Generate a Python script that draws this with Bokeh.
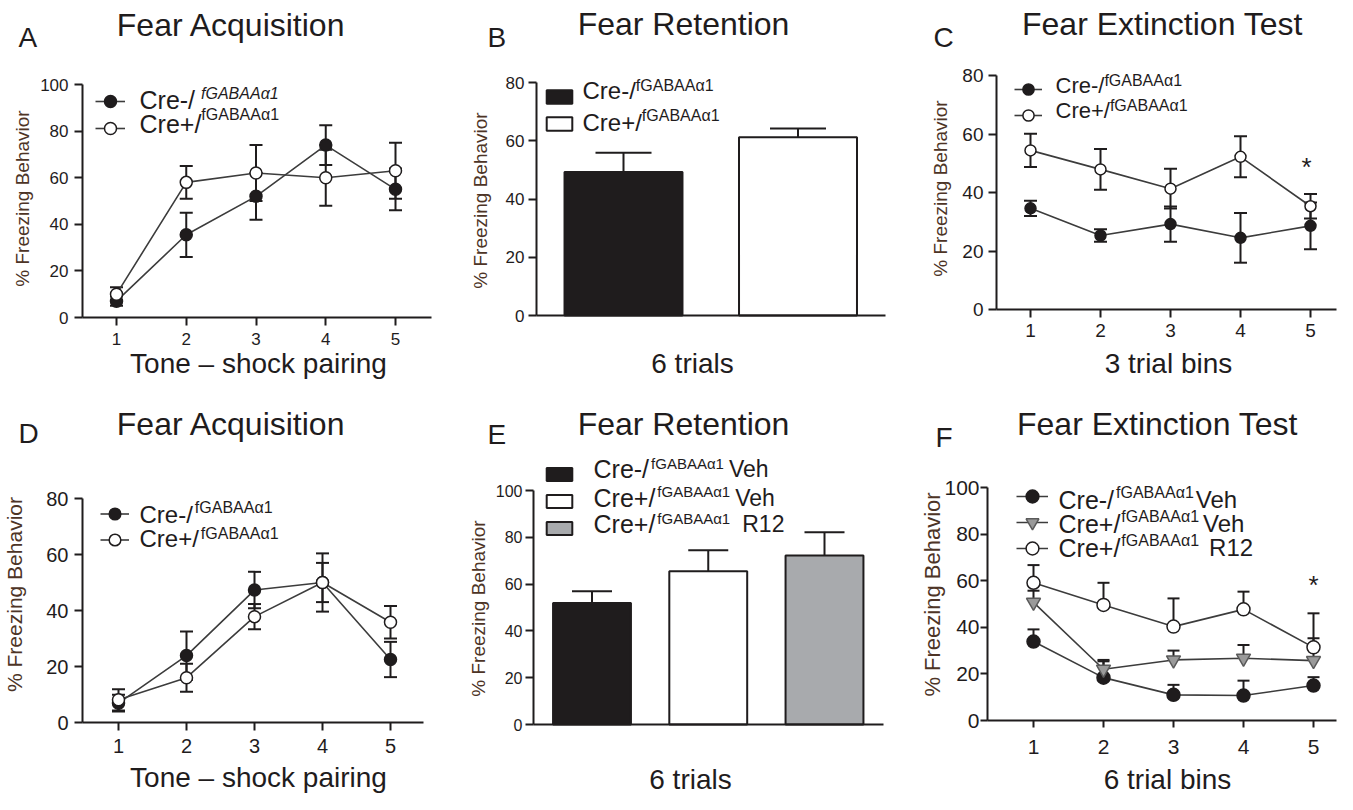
from bokeh.plotting import figure
from bokeh.models import (Range1d, Label, Legend, LegendItem, Whisker, TeeHead,
                          ColumnDataSource, FixedTicker)
from bokeh.layouts import row, column
from bokeh.embed import file_html
from bokeh.resources import INLINE
from bokeh.core.properties import value

FONT = "Liberation Sans"
INK = "#1f1c1d"
LINEC = "#3c3c3c"
YLABC = "#4d3426"
GREY_BAR = "#a8aaad"
TRI_FILL = "#9a9a9a"
TRI_LINE = "#5a5a5a"

# ---------------- data ----------------
bins = [1, 2, 3, 4, 5]
y_ticks_100 = [0, 20, 40, 60, 80, 100]
y_ticks_80 = [0, 20, 40, 60, 80]
sup = "fGABAA\u03b11"

# A  Fear Acquisition
a_minus = [7, 35.5, 52, 74, 55]
a_minus_err = [2, 9.5, 10, 8.5, 9]
a_plus = [10, 58, 62, 60, 63]
a_plus_err = [3, 7, 12, 12, 12]
# B  Fear Retention
b_groups = [1, 2]
b_mean = [49.3, 61.2]
b_err = [6.6, 3.0]
# C  Fear Extinction Test
c_minus = [34.6, 25.3, 29.2, 24.5, 28.6]
c_minus_err = [2.6, 2.1, 6.0, 8.5, 8.0]
c_plus = [54.4, 47.9, 41.3, 52.2, 35.3]
c_plus_err = [5.7, 7.0, 6.8, 7.0, 4.2]
# D  Fear Acquisition
d_minus = [6.9, 23.9, 47.3, 50.0, 22.5]
d_minus_err = [3.0, 8.6, 6.5, 10.4, 6.3]
d_plus = [8.1, 16.0, 37.8, 50.0, 35.8]
d_plus_err = [3.8, 5.0, 4.5, 7.0, 5.8]
# E  Fear Retention
e_groups = [1, 2, 3]
e_mean = [51.9, 65.5, 72.2]
e_err = [5.0, 9.0, 10.0]
# F  Fear Extinction Test
f_minus_veh = [33.9, 18.4, 11.0, 10.7, 15.0]
f_minus_veh_err = [5.2, 7.0, 4.3, 6.4, 3.6]
f_plus_veh = [50.7, 22.0, 26.0, 26.7, 25.7]
f_plus_veh_err = [5.0, 4.0, 4.0, 5.7, 9.6]
f_plus_r12 = [59.1, 49.6, 40.3, 47.7, 31.4]
f_plus_r12_err = [7.6, 9.5, 12.1, 7.6, 14.6]

# approximate advance widths (em) of Liberation Sans, for placing superscripts
EM = {"C": .722, "r": .333, "e": .556, "-": .333, "+": .584, "/": .278, " ": .278}
SUP_EM = 4.86


# ---------------- helpers ----------------
def panel(W, H, X1, ppx, Y0, ppy, ax_l, ax_r, ytop, xticks, yticks,
          tick_size, xstand, ystand, tick_len=8):
    """Frame fills the whole canvas; axes sit at fixed data locations."""
    xs = 1 - X1 / ppx
    ys = -(H - Y0) / ppy
    p = figure(width=W, height=H, x_range=Range1d(xs, xs + W / ppx),
               y_range=Range1d(ys, Y0 / ppy), min_border=0,
               toolbar_location=None, output_backend="svg")
    p.title_location = None
    p.outline_line_color = None
    p.grid.visible = False
    p.background_fill_color = "white"
    p.border_fill_color = "white"
    for ax in (p.xaxis[0], p.yaxis[0]):
        ax.axis_line_width = 2
        ax.axis_line_color = INK
        ax.major_tick_line_width = 2
        ax.major_tick_line_color = INK
        ax.major_tick_out = tick_len
        ax.major_tick_in = 0
        ax.minor_tick_line_color = None
        ax.major_label_text_font = FONT
        ax.major_label_text_color = INK
        ax.major_label_text_font_size = f"{tick_size}px"
    xl = xs + ax_l / ppx
    xr = xs + ax_r / ppx
    p.xaxis[0].major_label_standoff = xstand
    p.yaxis[0].major_label_standoff = ystand
    p.xaxis[0].ticker = FixedTicker(ticks=xticks)
    p.yaxis[0].ticker = FixedTicker(ticks=yticks)
    p.yaxis[0].fixed_location = xl
    p.xaxis[0].fixed_location = 0
    p.xaxis[0].bounds = (xl, xr)
    p.yaxis[0].bounds = (0, ytop)
    return p


def put(p, fx, fy, text, size, color=INK, align="left", angle=0, style="normal"):
    p.add_layout(Label(x=fx, y=p.height - fy, x_units="screen", y_units="screen",
                       text=text, text_font=FONT, text_font_size=f"{size}px",
                       text_color=color, text_align=align,
                       text_baseline="middle", angle=angle, angle_units="deg",
                       text_font_style=style))


def entry(p, x, cy, main, size, ssize, lift, gap=1, tail=None, tail_gap=4,
          tail_size=None, italic=False):
    put(p, x, cy, main, size)
    sx = x + sum(EM[c] for c in main) * size + gap
    put(p, sx, cy - lift, sup, ssize, style="italic" if italic else "normal")
    if tail:
        put(p, sx + SUP_EM * ssize + tail_gap, cy, tail, tail_size or size)


def errbars(p, x, y, err, cap, both=True):
    up = [v + e for v, e in zip(y, err)]
    lo = [v - e for v, e in zip(y, err)] if both else list(y)
    src = ColumnDataSource(dict(x=list(x), upper=up, lower=lo))
    w = Whisker(base="x", upper="upper", lower="lower", source=src,
                level="underlay", line_color=INK, line_width=2,
                upper_head=TeeHead(size=cap, line_color=INK, line_width=2),
                lower_head=(TeeHead(size=cap, line_color=INK, line_width=2)
                            if both else None))
    p.add_layout(w)


def series(p, specs):
    lines = [p.line(x, y, line_color=LINEC, line_width=1.6) for x, y, *_ in specs]
    groups = []
    for (x, y, marker, size, fill, lc), l in zip(specs, lines):
        s = p.scatter(x, y, marker=marker, size=size, fill_color=fill,
                      line_color=lc, line_width=1.5)
        groups.append([l, s])
    return groups


def legend_rows(p, items, cx, cys, gw, gh):
    # one single-row legend per entry, so each swatch sits exactly on its text row
    for item, cy in zip(items, cys):
        p.add_layout(Legend(items=[item],
                            location=(cx - gw / 2, p.height - (cy + gh / 2)),
                            glyph_width=gw, glyph_height=gh, spacing=0, padding=0,
                            margin=0, label_standoff=0, label_width=0,
                            label_height=gh, label_text_font_size="1px",
                            border_line_color=None, background_fill_alpha=0))


def line_items(groups):
    return [LegendItem(label=value(""), renderers=g) for g in groups]


def bar_items(r, n):
    return [LegendItem(label=value(""), renderers=[r], index=i) for i in range(n)]


YL = "% Freezing Behavior"
TS = 32  # title size

# ---------------- A ----------------
pA = panel(450, 400, 116, 69.75, 317, 2.33, 82, 431, 100, bins, y_ticks_100,
           17, 7, 6)
errbars(pA, bins, a_minus, a_minus_err, 13)
errbars(pA, bins, a_plus, a_plus_err, 13)
gA = series(pA, [(bins, a_minus, "circle", 12, INK, INK),
                 (bins, a_plus, "circle", 12, "white", INK)])
legend_rows(pA, line_items(gA), 110, [101, 128], 30, 30)
entry(pA, 139, 99, "Cre-/", 25, 16, 6, gap=6, italic=True)
entry(pA, 139, 123, "Cre+/", 25, 16, 9, gap=0)
put(pA, 231, 24, "Fear Acquisition", TS, align="center")
put(pA, 18, 37, "A", 28)
put(pA, 22, 198, YL, 19, color=YLABC, align="center", angle=90)
put(pA, 258, 363, "Tone \u2013 shock pairing", 28, align="center")

# ---------------- B ----------------
pB = panel(450, 400, 173, 174.5, 315, 2.9125, 86, 435, 80, [], y_ticks_80,
           17, 7, 4)
srcB = ColumnDataSource(dict(x=b_groups, top=b_mean, color=[INK, "white"]))
errbars(pB, b_groups, b_mean, b_err, 56, both=False)
rB = pB.vbar(x="x", top="top", width=0.676, fill_color="color", line_color=INK,
             line_width=2, source=srcB)
legend_rows(pB, bar_items(rB, 2), 109, [96, 123], 32, 17)
entry(pB, 132, 90, "Cre-/", 24, 16, 5, gap=0)
entry(pB, 132, 122, "Cre+/", 24, 16, 7, gap=0)
put(pB, 233, 23, "Fear Retention", TS, align="center")
put(pB, 37, 37, "B", 28)
put(pB, 30, 200, YL, 19, color=YLABC, align="center", angle=90)
put(pB, 242, 363, "6 trials", 28, align="center")

# ---------------- C ----------------
pC = panel(437, 400, 130, 70, 309, 2.925, 96, 436, 80, bins, y_ticks_80,
           19, 6, 5)
errbars(pC, bins, c_minus, c_minus_err, 13)
errbars(pC, bins, c_plus, c_plus_err, 13)
gC = series(pC, [(bins, c_minus, "circle", 11, INK, INK),
                 (bins, c_plus, "circle", 11, "white", INK)])
legend_rows(pC, line_items(gC), 128, [89, 115], 28, 28)
entry(pC, 155, 85, "Cre-/", 22, 16, 5, gap=0)
entry(pC, 155, 110, "Cre+/", 22, 16, 5, gap=0)
put(pC, 406, 166, "*", 26, align="center")
put(pC, 262, 23, "Fear Extinction Test", TS, align="center")
put(pC, 33, 37, "C", 28)
put(pC, 40, 188, YL, 19, color=YLABC, align="center", angle=90)
put(pC, 268, 363, "3 trial bins", 28, align="center")

# ---------------- D ----------------
pD = panel(450, 394, 118, 68, 322, 2.8, 82, 423, 80, bins, y_ticks_80,
           20, 8, 6)
errbars(pD, bins, d_minus, d_minus_err, 13)
errbars(pD, bins, d_plus, d_plus_err, 13)
gD = series(pD, [(bins, d_minus, "circle", 12, INK, INK),
                 (bins, d_plus, "circle", 12, "white", INK)])
legend_rows(pD, line_items(gD), 114, [113, 139], 29, 29)
entry(pD, 139, 114, "Cre-/", 24, 16, 7, gap=2)
entry(pD, 139, 138, "Cre+/", 24, 16, 5, gap=2)
put(pD, 231, 23, "Fear Acquisition", TS, align="center")
put(pD, 18, 33, "D", 28)
put(pD, 14, 194, YL, 21, color=YLABC, align="center", angle=90)
put(pD, 258, 377, "Tone \u2013 shock pairing", 28, align="center")

# ---------------- E ----------------
pE = panel(450, 394, 141.5, 116.25, 324, 2.34, 83, 433, 100, [], y_ticks_100,
           16, 7, 3)
srcE = ColumnDataSource(dict(x=e_groups, top=e_mean, color=[INK, "white", GREY_BAR]))
errbars(pE, e_groups, e_mean, e_err, 40, both=False)
rE = pE.vbar(x="x", top="top", width=0.67, fill_color="color", line_color=INK,
             line_width=2, source=srcE)
legend_rows(pE, bar_items(rE, 3), 109, [74, 101, 128], 32, 16)
entry(pE, 143, 68, "Cre-/", 25, 15, 5, gap=2, tail="Veh", tail_gap=5, tail_size=23)
entry(pE, 143, 97, "Cre+/", 25, 15, 6, gap=2, tail="Veh", tail_gap=5, tail_size=23)
entry(pE, 143, 123, "Cre+/", 25, 15, 5, gap=2, tail="R12", tail_gap=12, tail_size=23)
put(pE, 233, 23, "Fear Retention", TS, align="center")
put(pE, 37, 34, "E", 28)
put(pE, 28, 208, YL, 19, color=YLABC, align="center", angle=90)
put(pE, 240, 379, "6 trials", 28, align="center")

# ---------------- F ----------------
pF = panel(437, 394, 133, 70, 320, 2.33, 87, 436, 100, bins, y_ticks_100,
           21, 12, 1, tick_len=7)
errbars(pF, bins, f_minus_veh, f_minus_veh_err, 12, both=False)
errbars(pF, bins, f_plus_veh, f_plus_veh_err, 12, both=False)
errbars(pF, bins, f_plus_r12, f_plus_r12_err, 12, both=False)
gF = series(pF, [(bins, f_minus_veh, "circle", 13, INK, INK),
                 (bins, f_plus_veh, "inverted_triangle", 14, TRI_FILL, TRI_LINE),
                 (bins, f_plus_r12, "circle", 13, "white", INK)])
legend_rows(pF, line_items(gF), 132, [96, 122, 148], 32, 32)
entry(pF, 158, 99, "Cre-/", 25, 16, 7, gap=2, tail="Veh", tail_gap=2, tail_size=24)
entry(pF, 158, 123, "Cre+/", 25, 16, 7, gap=1, tail="Veh", tail_gap=4, tail_size=24)
entry(pF, 158, 147, "Cre+/", 25, 16, 7, gap=1, tail="R12", tail_gap=10, tail_size=24)
put(pF, 413, 184, "*", 26, align="center")
put(pF, 257, 23, "Fear Extinction Test", TS, align="center")
put(pF, 35, 37, "F", 28)
put(pF, 32, 194, YL, 22, color=YLABC, align="center", angle=90)
put(pF, 267, 379, "6 trial bins", 28, align="center")

layout = column(row(pA, pB, pC, spacing=0), row(pD, pE, pF, spacing=0), spacing=0)

with open("out.html", "w", encoding="utf-8") as fh:
    fh.write(file_html(layout, INLINE, title="Fear conditioning panels"))
